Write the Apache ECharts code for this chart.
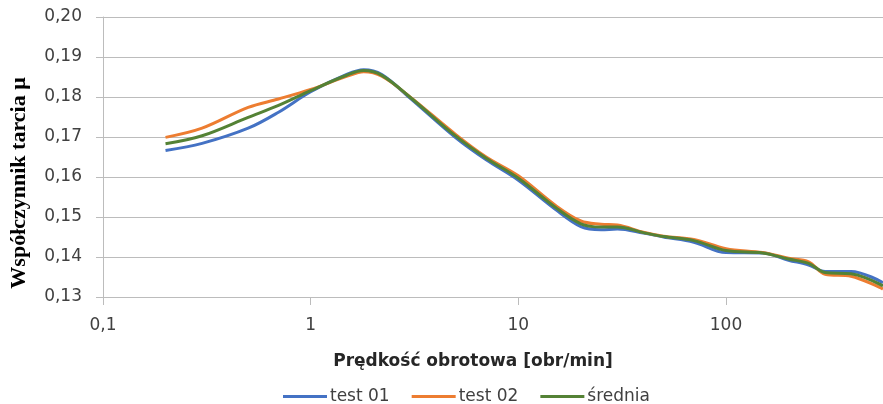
<!DOCTYPE html>
<html>
<head>
<meta charset="utf-8">
<script src="https://cdn.jsdelivr.net/npm/echarts@6/dist/echarts.min.js"></script>
<style>html,body{margin:0;padding:0;background:#fff;}#c{width:883px;height:404px;}</style>
</head>
<body>
<div id="c"></div>
<script>
const speeds = [0.2, 0.3, 0.5, 0.7, 1, 1.5, 1.8, 2.2, 3, 5, 7, 10, 15, 20, 25, 30, 40, 50, 70, 100, 150, 200, 250, 300, 400, 570];
const test01 = [0.1666, 0.1684, 0.1722, 0.1762, 0.1813, 0.1857, 0.1868, 0.1856, 0.1798, 0.1698, 0.1643, 0.1592, 0.1520, 0.1476, 0.1468, 0.1470, 0.1460, 0.1450, 0.1437, 0.1411, 0.1410, 0.1392, 0.1380, 0.1364, 0.1364, 0.1336];
const test02 = [0.1699, 0.1722, 0.1774, 0.1795, 0.1819, 0.1852, 0.1863, 0.1852, 0.1801, 0.1706, 0.1650, 0.1603, 0.1530, 0.1490, 0.1482, 0.1480, 0.1462, 0.1452, 0.1444, 0.1421, 0.1411, 0.1397, 0.1388, 0.1357, 0.1352, 0.1320];
const srednia = [0.1683, 0.1703, 0.1749, 0.1779, 0.1816, 0.1855, 0.1866, 0.1854, 0.1800, 0.1702, 0.1647, 0.1597, 0.1525, 0.1483, 0.1475, 0.1475, 0.1461, 0.1451, 0.1441, 0.1416, 0.1410, 0.1395, 0.1384, 0.1361, 0.1358, 0.1328];
const seriesNames = ['test 01', 'test 02', 'średnia'];
const seriesColors = ['#4472C4', '#ED7D31', '#548235'];
const xTitle = 'Prędkość obrotowa [obr/min]';
const yTitle = 'Współczynnik tarcia μ';

const chart = echarts.init(document.getElementById('c'), null, {renderer: 'canvas'});
const pair = arr => speeds.map((s, i) => [s, arr[i]]);
const allData = [test01, test02, srednia];
const gridColor = '#bcbcbc';
const labelColor = '#404040';
const sans = 'DejaVu Sans';

chart.setOption({
  animation: false,
  backgroundColor: '#fff',
  grid: {left: 103, right: 0, top: 17, bottom: 107, containLabel: false},
  legend: {
    left: 278, top: 383,
    icon: 'rect', itemWidth: 44, itemHeight: 3, itemGap: 22,
    textStyle: {fontFamily: sans, fontSize: 17, color: labelColor, padding: [0, 0, 0, -2]},
    data: seriesNames
  },
  xAxis: {
    type: 'log', logBase: 10, min: 0.1, max: 570,
    name: xTitle, nameLocation: 'middle', nameGap: 56,
    nameTextStyle: {fontFamily: sans, fontSize: 17, fontWeight: 'bold', color: '#262626', padding: [0, 40, 0, 0]},
    axisLine: {show: true, lineStyle: {color: gridColor, width: 1}},
    axisTick: {show: true, length: 8, lineStyle: {color: gridColor}},
    splitLine: {show: false},
    minorTick: {show: false},
    axisLabel: {
      fontFamily: sans, fontSize: 17, color: labelColor, margin: 20,
      showMaxLabel: false,
      formatter: v => String(+(+v).toPrecision(6)).replace('.', ',')
    }
  },
  yAxis: {
    type: 'value', min: 0.13, max: 0.20, interval: 0.01,
    name: yTitle, nameLocation: 'middle', nameGap: 73, nameRotate: 90,
    nameTextStyle: {fontFamily: 'Liberation Serif', fontSize: 22, fontWeight: 'bold', color: '#000', padding: [0, 52, 0, 0]},
    axisLine: {show: true, lineStyle: {color: gridColor, width: 1}},
    axisTick: {show: true, length: 7, lineStyle: {color: gridColor}},
    splitLine: {show: true, lineStyle: {color: gridColor, width: 1}},
    axisLabel: {
      fontFamily: sans, fontSize: 17, color: labelColor, margin: 21,
      formatter: v => (+v).toFixed(2).replace('.', ',')
    }
  },
  series: seriesNames.map((n, i) => ({
    name: n, type: 'line', data: pair(allData[i]),
    smooth: 0.35, symbol: 'none', showSymbol: false,
    lineStyle: {color: seriesColors[i], width: 3},
    itemStyle: {color: seriesColors[i]},
    z: 2 + i
  }))
});
</script>
</body>
</html>
